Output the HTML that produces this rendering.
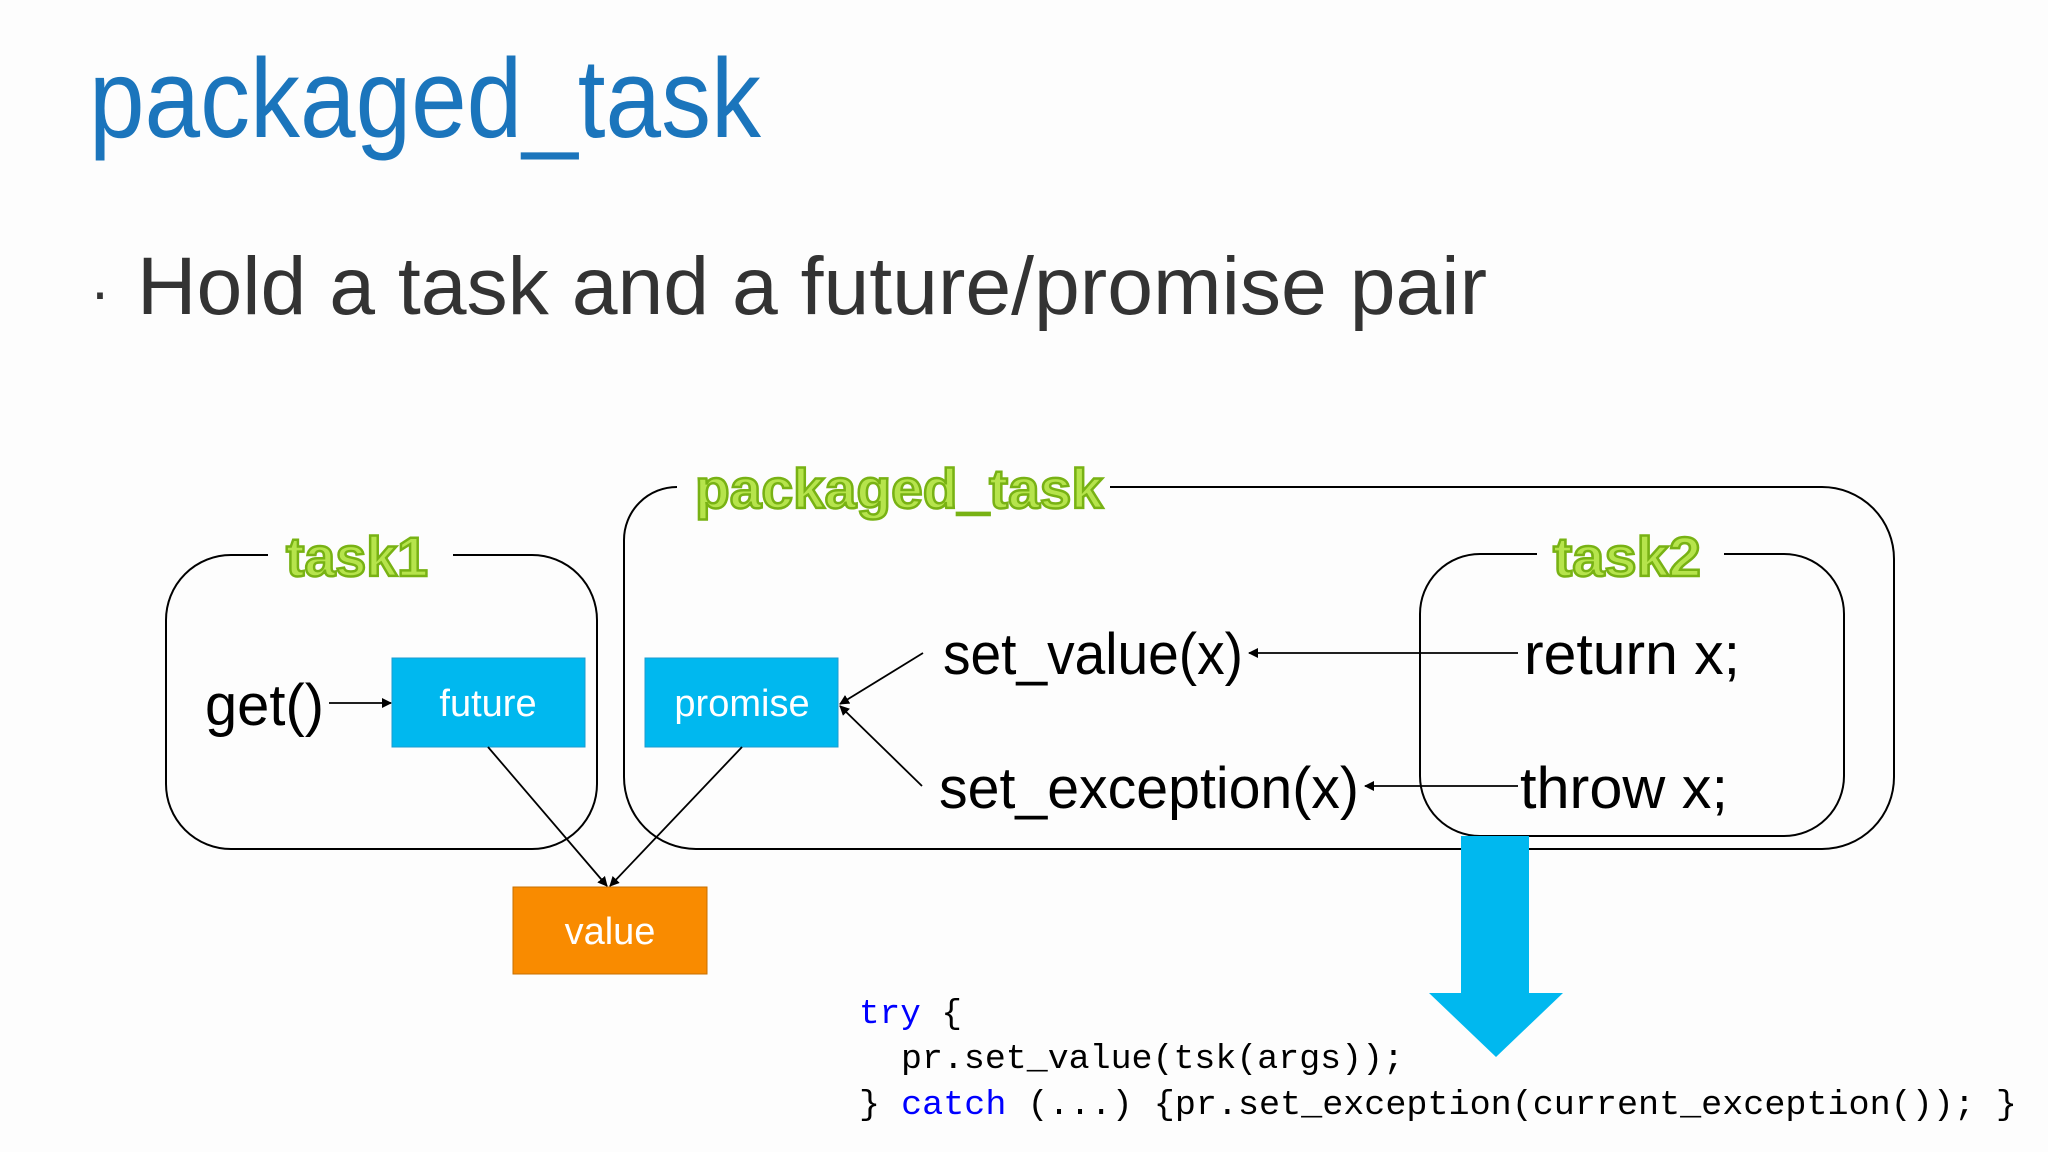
<!DOCTYPE html>
<html><head><meta charset="utf-8"><style>
html,body{margin:0;padding:0;background:#fff;}
svg{display:block;}
</style></head><body>
<svg width="2048" height="1152" viewBox="0 0 2048 1152" xmlns="http://www.w3.org/2000/svg">
<defs>
<marker id="ah" viewBox="0 0 10 10" refX="9" refY="5" markerWidth="10" markerHeight="10" markerUnits="userSpaceOnUse" orient="auto">
<path d="M0,0 L10,5 L0,10 z" fill="#000"/></marker>
</defs>
<rect width="2048" height="1152" fill="#fdfdfd"/>
<text x="89" y="137" font-family="Liberation Sans, sans-serif" font-size="112" fill="#1b75bc" textLength="672" lengthAdjust="spacingAndGlyphs">packaged_task</text>
<text x="90" y="312" font-family="Liberation Sans, sans-serif" font-size="60" fill="#333">·</text>
<text x="137" y="314" font-family="Liberation Sans, sans-serif" font-size="82" fill="#333" textLength="1350" lengthAdjust="spacingAndGlyphs">Hold a task and a future/promise pair</text>

<g fill="none" stroke="#000" stroke-width="2">
<!-- task1 -->
<path d="M268,555 H231 A65,65 0 0 0 166,620 V784 A65,65 0 0 0 231,849 H532 A65,65 0 0 0 597,784 V620 A65,65 0 0 0 532,555 H453"/>
<!-- packaged -->
<path d="M677,487 A53,53 0 0 0 624,540 V777 A72,72 0 0 0 696,849 H1822 A72,72 0 0 0 1894,777 V559 A72,72 0 0 0 1822,487 H1110"/>
<!-- task2 -->
<path d="M1537,554 H1480 A60,60 0 0 0 1420,614 V776 A60,60 0 0 0 1480,836 H1784 A60,60 0 0 0 1844,776 V614 A60,60 0 0 0 1784,554 H1724"/>
</g>

<g font-family="Liberation Sans, sans-serif" font-weight="bold" fill="#b6e44c" stroke="#78b214" stroke-width="2.5">
<text x="357" y="576" font-size="56" text-anchor="middle" textLength="142" lengthAdjust="spacingAndGlyphs">task1</text>
<text x="899" y="508" font-size="56" text-anchor="middle" textLength="408" lengthAdjust="spacingAndGlyphs">packaged_task</text>
<text x="1627" y="576" font-size="56" text-anchor="middle" textLength="148" lengthAdjust="spacingAndGlyphs">task2</text>
</g>

<rect x="392" y="658" width="193" height="89" fill="#00b8ef" stroke="#1a9bd0" stroke-width="1"/>
<rect x="645" y="658" width="193" height="89" fill="#00b8ef" stroke="#1a9bd0" stroke-width="1"/>
<rect x="513" y="887" width="194" height="87" fill="#f98b00" stroke="#c76f00" stroke-width="1"/>
<g font-family="Liberation Sans, sans-serif" font-size="38" fill="#fff" text-anchor="middle">
<text x="488" y="716">future</text>
<text x="742" y="716">promise</text>
<text x="610" y="944">value</text>
</g>

<g font-family="Liberation Sans, sans-serif" font-size="58" fill="#000">
<text x="205" y="725" textLength="119" lengthAdjust="spacingAndGlyphs">get()</text>
<text x="943" y="674" textLength="300" lengthAdjust="spacingAndGlyphs">set_value(x)</text>
<text x="939" y="808" textLength="420" lengthAdjust="spacingAndGlyphs">set_exception(x)</text>
<text x="1524" y="674" textLength="216" lengthAdjust="spacingAndGlyphs">return x;</text>
<text x="1520" y="808" textLength="208" lengthAdjust="spacingAndGlyphs">throw x;</text>
</g>

<g stroke="#000" stroke-width="1.8" fill="none" marker-end="url(#ah)">
<line x1="329" y1="703" x2="391" y2="703"/>
<line x1="923" y1="653" x2="840" y2="704"/>
<line x1="922" y1="786" x2="840" y2="706"/>
<line x1="1518" y1="653" x2="1249" y2="653"/>
<line x1="1518" y1="786" x2="1365" y2="786"/>
<line x1="488" y1="747" x2="607" y2="886"/>
<line x1="742" y1="747" x2="610" y2="886"/>
</g>

<path d="M1461,836 H1529 V993 H1563 L1496,1057 L1429,993 H1461 Z" fill="#00b8ef"/>

<g font-family="Liberation Mono, monospace" font-size="34" fill="#000">
<text x="859" y="1023" textLength="103" lengthAdjust="spacingAndGlyphs"><tspan fill="#0000ff">try</tspan> {</text>
<text x="901" y="1068" textLength="503" lengthAdjust="spacingAndGlyphs">pr.set_value(tsk(args));</text>
<text x="859" y="1114" textLength="1158" lengthAdjust="spacingAndGlyphs">} <tspan fill="#0000ff">catch</tspan> (...) {pr.set_exception(current_exception()); }</text>
</g>
</svg>
</body></html>
